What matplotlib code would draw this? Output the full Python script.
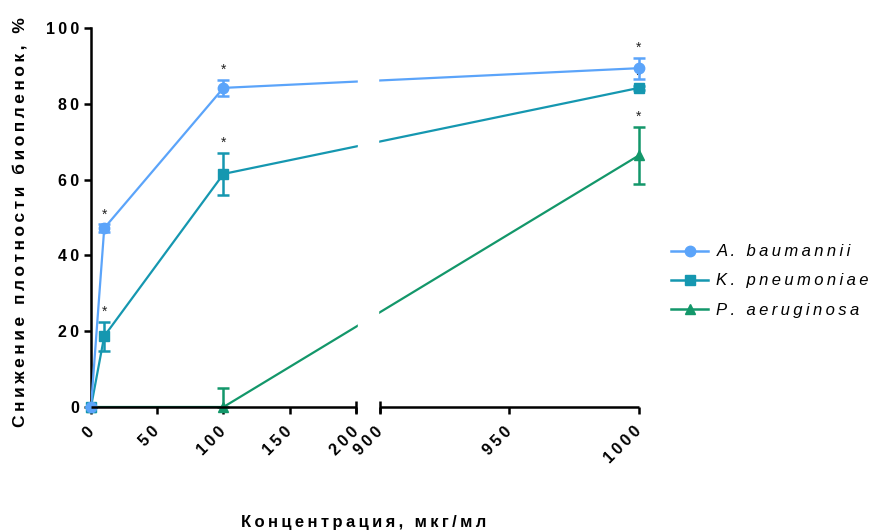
import numpy as np
import matplotlib
matplotlib.use("Agg")
import matplotlib.pyplot as plt
from matplotlib.lines import Line2D

plt.rcParams['font.family'] = ['Liberation Sans', 'DejaVu Sans']

# data
names = ['A. baumannii', 'K. pneumoniae', 'P. aeruginosa']
ab_x = [0, 10, 100, 1000]
ab_mean = [0, 47.2, 84.2, 89.4]
ab_err = [0, 1.0, 2.2, 2.8]
ab_star = [False, True, True, True]
kp_x = [0, 10, 100, 1000]
kp_mean = [0, 18.7, 61.5, 84.2]
kp_err = [0, 3.8, 5.6, 0.6]
kp_star = [False, True, True, True]
pa_x = [0, 100, 1000]
pa_mean = [0, 0, 66.4]
pa_err = [0, 5.0, 7.5]
pa_star = [False, False, True]

xticks = [0, 50, 100, 150, 200, 900, 950, 1000]
yticks = [0, 20, 40, 60, 80, 100]
colors = ['#5ba4fa', '#1597b0', '#13976a']
markers = ['o', 's', '^']

# broken x axis: 0-200 and 900-1000 on one axes
GAP = 18.1
SCALE = 1.955


def brk(x):
    x = np.asarray(x, float)
    return np.where(x <= 200, x, 200 + GAP + (x - 900) * SCALE)


def spaced(s, sep='\u2009'):
    return sep.join(s)


fig = plt.figure(figsize=(8.84, 5.32), dpi=100)
ax = fig.add_axes([91 / 884, 1 - 407 / 532, 548 / 884, 379 / 532])

series = [(pa_x, pa_mean, pa_err, pa_star), (kp_x, kp_mean, kp_err, kp_star),
          (ab_x, ab_mean, ab_err, ab_star)]
for (x, m, e, st), c, mk in zip(series, colors[::-1], markers[::-1]):
    xs = brk(x)
    m = np.asarray(m, float)
    e = np.asarray(e, float)
    lo = np.minimum(e, m)  # bars stop at the axis
    ax.plot(xs, m, color=c, lw=1.6, zorder=3)
    ax.errorbar(xs, m, yerr=[lo, e], fmt='none', ecolor=c, elinewidth=1.8, capsize=4,
                capthick=1.8, zorder=3, clip_on=False)
    ax.plot(xs, m, ls='none', marker=mk, ms=7.5, color=c, zorder=4, clip_on=False)
    for xi, y, err, s in zip(xs, m, e, st):
        if s:
            ax.annotate('*', (xi, y + err), xytext=(0, 2), textcoords='offset points',
                        ha='center', va='bottom', fontsize=10, color='#222222')

# white break in the lines
ax.axvspan(200 + 1.5, 200 + GAP - 1.5, color='white', zorder=5)

ax.set_xlim(0, float(brk(1000)))
ax.set_ylim(0, 100)
for side in ['top', 'right', 'bottom']:
    ax.spines[side].set_visible(False)
ax.spines['left'].set_linewidth(1.8)

# bottom axis in two pieces
ax.plot([0, 200], [0, 0], color='black', lw=1.8, clip_on=False, zorder=6, solid_capstyle='butt')
ax.plot(brk([900, 1000]), [0, 0], color='black', lw=1.8, clip_on=False, zorder=6, solid_capstyle='butt')
ax.plot(brk([200, 900]), [0, 0], ls='none', marker='|', ms=9, mew=1.8, color='black',
        clip_on=False, zorder=6)

ax.set_xticks(brk(xticks))
ax.set_xticklabels([spaced(str(t)) for t in xticks], rotation=45, ha='right', va='center',
                   rotation_mode='anchor', fontsize=11.5, fontweight='bold')
ax.set_yticks(yticks)
ax.set_yticklabels([spaced(str(t)) for t in yticks], fontsize=11.5, fontweight='bold')
ax.tick_params(axis='both', width=1.8, length=5, direction='out')
ax.tick_params(axis='x', pad=11)

fig.text(20 / 884, 1 - 222 / 532, spaced('Снижение плотности биопленок, %'),
         rotation=90, ha='center', va='center', fontsize=12.5, fontweight='bold')
fig.text(364 / 884, 1 - 522 / 532, spaced('Концентрация, мкг/мл'),
         ha='center', va='center', fontsize=12, fontweight='bold')

handles = [Line2D([], [], color=c, marker=mk, lw=1.8, ms=7.5) for c, mk in zip(colors, markers)]
fig.legend(handles, [spaced(n) for n in names], loc='center left',
           bbox_to_anchor=(668 / 884, 1 - 281 / 532), frameon=False,
           prop={'style': 'italic', 'size': 12}, handlelength=2.2, handletextpad=0.5,
           labelspacing=0.85, borderpad=0.2, borderaxespad=0)

fig.savefig('out.png', dpi=100)
